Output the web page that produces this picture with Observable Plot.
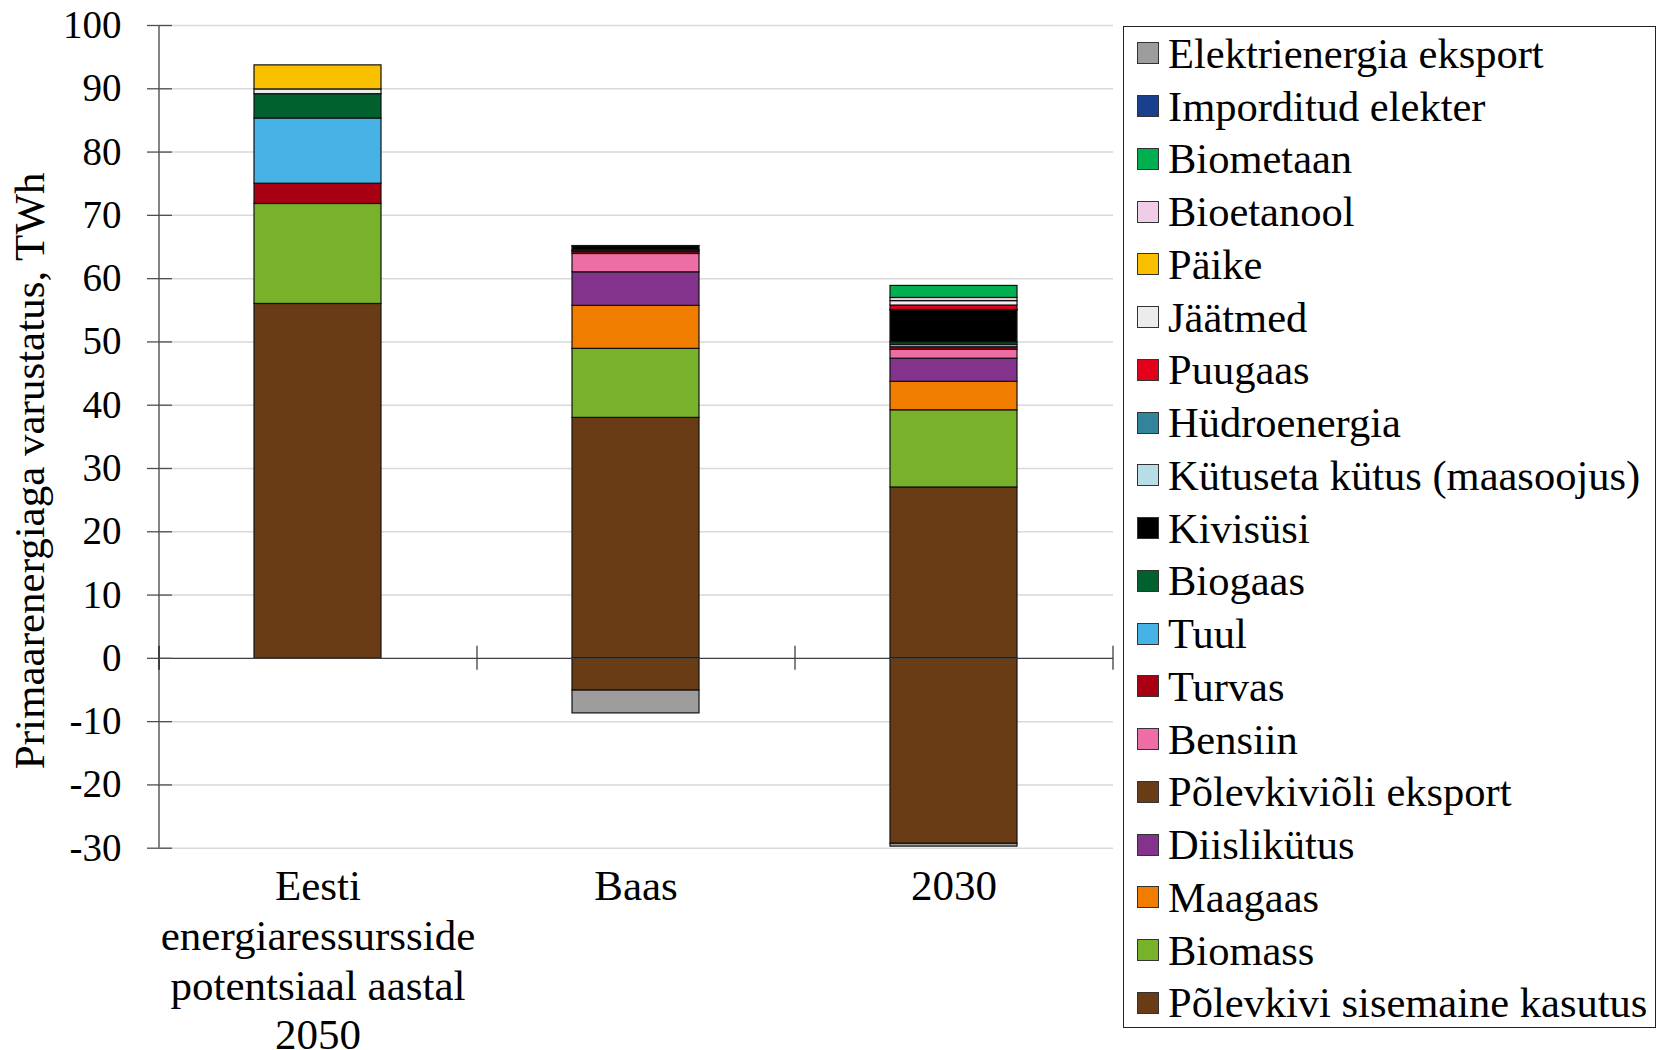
<!DOCTYPE html>
<html lang="et">
<head>
<meta charset="utf-8">
<title>Primaarenergiaga varustatus</title>
<script src="https://cdn.jsdelivr.net/npm/d3@7"></script>
<script src="https://cdn.jsdelivr.net/npm/@observablehq/plot@0.6"></script>
<style>
  html, body { margin: 0; padding: 0; background: #fff; }
  #wrap { position: relative; width: 1658px; height: 1050px; font-family: "Liberation Serif", "Times New Roman", serif; }
  #legend {
    position: absolute; left: 1123px; top: 26px; width: 533px; height: 1002px;
    border: 1.5px solid #222; box-sizing: border-box; background: #fff;
    padding-top: 0px; overflow: hidden;
  }
  .item { display: flex; align-items: center; height: 52.75px; font-size: 42.5px; color: #000; white-space: nowrap; }
  .sw { width: 20px; height: 20px; border: 1px solid #333; margin-left: 13px; margin-right: 9px; flex: none; }
</style>
</head>
<body>
<div id="wrap"><div id="chart"></div><div id="legend"></div></div>
<script>
// Categories (x axis); "\n" breaks the long label into lines
const categories = ["Eesti\nenergiaressursside\npotentsiaal aastal\n2050", "Baas", "2030"];

// Series in stacking order (bottom to top)
const seriesNames = [
  "Põlevkivi sisemaine kasutus", "Biomass", "Maagaas", "Diislikütus",
  "Põlevkiviõli eksport", "Bensiin", "Turvas", "Tuul", "Biogaas", "Kivisüsi",
  "Kütuseta kütus (maasoojus)", "Hüdroenergia", "Puugaas", "Jäätmed", "Päike",
  "Bioetanool", "Biometaan", "Imporditud elekter", "Elektrienergia eksport"
];
const seriesColors = [
  "#6a3c15", "#78b22b", "#f07d00", "#84338c",
  "#6a3c15", "#ec6ea5", "#a80012", "#47b2e6", "#00612f", "#000000",
  "#b7dee8", "#31849b", "#e3001b", "#ececec", "#f9c000",
  "#f0cde6", "#00b050", "#1a3f8f", "#9d9d9d"
];

// TWh per category: [potentsiaal 2050, Baas, 2030]
const polevkiviSisemaine = [56.0, 38.0, 27.0];
const biomass            = [15.8, 10.9, 12.2];
const maagaas            = [0, 6.8, 4.5];
const diislikutus        = [0, 5.3, 3.65];
const polevkivioliEksport= [0, -5.1, -29.3];
const bensiin            = [0, 2.9, 1.4];
const turvas             = [3.2, 0.3, 0.4];
const tuul               = [10.3, 0.2, 0.4];
const biogaas            = [3.85, 0.1, 0.4];
const kivisusi           = [0, 0.6, 5.0];
const kutusetaKutus      = [0, 0, 0.05];
const hudroenergia       = [0, 0.05, 0.05];
const puugaas            = [0, 0, 0.7];
const jaatmed            = [0.75, 0, 0.7];
const paike              = [3.8, 0, 0];
const bioetanool         = [0, 0, 0.5];
const biometaan          = [0, 0, 1.9];
const imporditudElekter  = [0, 0, 0];
const elektrienergiaEksport = [0, -3.6, -0.45];

const seriesValues = [
  polevkiviSisemaine, biomass, maagaas, diislikutus, polevkivioliEksport,
  bensiin, turvas, tuul, biogaas, kivisusi, kutusetaKutus, hudroenergia,
  puugaas, jaatmed, paike, bioetanool, biometaan, imporditudElekter,
  elektrienergiaEksport
];

// y axis ticks
const yTicks = [-30, -20, -10, 0, 10, 20, 30, 40, 50, 60, 70, 80, 90, 100];

// Long table for the stacked bars
const rows = [];
categories.forEach((c, ci) => {
  seriesNames.forEach((s, si) => {
    const v = seriesValues[si][ci];
    if (v !== 0) rows.push({category: c, series: s, value: v});
  });
});

const W = 1120, H = 1050;
const mTop = 25, mBottom = 202.3, mLeft = 159, mRight = 7;
const plotW = W - mLeft - mRight;
const step = plotW / categories.length;
const font = "'Liberation Serif', 'Times New Roman', serif";

const chart = Plot.plot({
  width: W, height: H,
  marginTop: mTop, marginBottom: mBottom, marginLeft: mLeft, marginRight: mRight,
  style: {fontFamily: font, fontSize: "39px", color: "#000", background: "#fff"},
  x: {domain: categories, paddingInner: 0.6, paddingOuter: 0.3, axis: null},
  y: {domain: [-30, 100], axis: null},
  color: {domain: seriesNames, range: seriesColors},
  marks: [
    // horizontal gridlines
    Plot.ruleY(yTicks.filter(v => v !== 0), {stroke: "#d9d9d9", strokeWidth: 1.5}),
    // stacked bars (positives stack up, negatives stack down)
    Plot.barY(rows, {x: "category", y: "value", fill: "series", stroke: "#111", strokeWidth: 1.2}),
    // zero line (category axis)
    Plot.ruleY([0], {stroke: "#404040", strokeWidth: 1.3}),
    // vertical value axis line
    Plot.ruleX(categories.slice(0, 1), {x: d => d, dx: -step / 2, y1: -30, y2: 100, stroke: "#505050", strokeWidth: 1.4}),
    // value axis tick marks crossing the axis
    Plot.ruleY(yTicks, {insetLeft: -12, insetRight: plotW - 13, stroke: "#505050", strokeWidth: 1.3}),
    // category boundary tick marks on the zero line
    Plot.ruleX(categories, {x: d => d, dx: step / 2, y1: -1.9, y2: 1.9, stroke: "#404040", strokeWidth: 1.3}),
    Plot.ruleX(categories.slice(0, 1), {x: d => d, dx: -step / 2, y1: -1.9, y2: 1.9, stroke: "#404040", strokeWidth: 2}),
    // y tick labels
    Plot.axisY({ticks: yTicks, tickSize: 0, tickPadding: 38, fontSize: 39, tickFormat: d => String(d), label: null}),
    // category labels
    Plot.axisX({anchor: "bottom", tickSize: 0, tickPadding: 17, fontSize: 43, lineHeight: 1.155, label: null}),
    // y axis title
    Plot.text(["Primaarenergiaga varustatus, TWh"], {
      frameAnchor: "left", textAnchor: "middle", dx: -129, dy: 34, rotate: -90, fontSize: 43, fill: "#000"
    })
  ]
});
document.getElementById("chart").appendChild(chart);

// Legend: last series first
const legend = d3.select("#legend");
seriesNames.map((s, i) => ({s, c: seriesColors[i]})).reverse().forEach(({s, c}) => {
  const item = legend.append("div").attr("class", "item");
  item.append("div").attr("class", "sw").style("background", c);
  item.append("span").text(s);
});
</script>
</body>
</html>
